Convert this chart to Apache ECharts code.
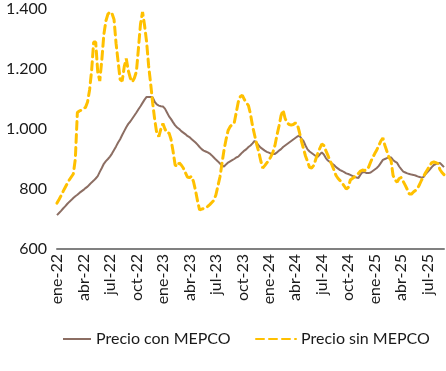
<!DOCTYPE html>
<html>
<head>
<meta charset="utf-8">
<script src="https://cdn.jsdelivr.net/npm/echarts@6/dist/echarts.min.js"></script>
<style>
html,body{margin:0;padding:0;background:#fff;}
#chart{width:446px;height:371px;}
</style>
</head>
<body>
<div id="chart"></div>
<script>
// Weekly observations, starting the week of 2022-01-03
const startDate = '2022-01-03';
const tickLabels = ['ene-22','abr-22','jul-22','oct-22','ene-23','abr-23','jul-23','oct-23','ene-24','abr-24','jul-24','oct-24','ene-25','abr-25','jul-25'];
const seriesNames = ['Precio con MEPCO', 'Precio sin MEPCO'];

const precioConMepco = [
713,720,727,735,742,750,757,763,770,776,
781,787,792,797,803,808,815,822,828,835,
843,857,870,884,893,900,908,918,930,942,
955,966,980,993,1006,1017,1025,1035,1045,1055,
1066,1076,1087,1098,1107,1107,1107,1105,1090,1082,
1078,1076,1075,1068,1055,1042,1033,1022,1012,1005,
1000,993,988,983,977,973,967,961,955,948,
940,933,928,925,922,918,912,905,898,892,
885,878,875,882,888,892,896,900,905,908,
915,922,928,933,940,945,952,960,955,945,
938,933,928,924,921,918,917,917,922,928,
933,940,945,950,955,960,965,970,975,978,
968,960,945,932,925,920,915,910,907,915,
922,915,903,895,890,885,880,873,868,863,
860,856,852,850,847,844,841,838,837,848,
856,856,853,853,855,860,865,870,877,887,
897,900,903,906,905,897,891,887,875,866,
858,855,852,850,848,847,845,842,840,838,
840,850,857,865,873,880,883,886,887,880,
873
];

const precioSinMepco = [
753,765,778,792,805,818,830,840,850,900,
1055,1060,1063,1068,1072,1090,1130,1195,1290,1290,
1190,1160,1230,1315,1360,1383,1390,1385,1365,1285,
1225,1165,1160,1207,1235,1195,1170,1157,1170,1192,
1270,1350,1390,1345,1290,1210,1150,1085,1030,985,
975,1000,1018,1000,987,987,965,925,880,875,
887,880,870,855,840,838,842,825,795,760,
730,733,735,737,742,748,755,762,780,810,
840,885,930,965,995,1008,1015,1020,1055,1090,
1108,1112,1098,1088,1078,1050,1010,980,950,925,
895,870,878,887,895,908,922,945,980,1010,
1045,1063,1035,1020,1015,1013,1015,1020,1015,990,
960,935,910,892,872,870,878,898,918,935,
950,945,928,912,895,880,863,845,835,828,
820,810,800,805,830,835,840,845,852,860,
863,862,863,873,890,905,918,930,945,960,
970,945,925,905,895,845,830,823,835,838,
825,812,798,783,783,790,795,802,815,830,
842,855,866,877,888,890,888,885,865,855,
848
];

// Build weekly category dates
const categories = [];
{
  const d0 = new Date(startDate + 'T00:00:00Z');
  for (let i = 0; i < precioConMepco.length; i++) {
    const d = new Date(d0.getTime() + i * 7 * 86400000);
    categories.push(d.toISOString().slice(0, 10));
  }
}

// Map each tick label to the week closest to the 1st of that month
const monthAbbr = ['ene','feb','mar','abr','may','jun','jul','ago','sep','oct','nov','dic'];
const labelAt = new Map();
tickLabels.forEach(function (lab) {
  const parts = lab.split('-');
  const m = monthAbbr.indexOf(parts[0]);
  const y = 2000 + parseInt(parts[1], 10);
  const target = Date.UTC(y, m, 1);
  let best = 0, bestDiff = Infinity;
  categories.forEach(function (c, i) {
    const diff = Math.abs(new Date(c + 'T00:00:00Z').getTime() - target);
    if (diff < bestDiff) { bestDiff = diff; best = i; }
  });
  labelAt.set(best, lab);
});

const FONT = 'Lato';
const chart = echarts.init(document.getElementById('chart'), null, { renderer: 'canvas' });
chart.setOption({
  animation: false,
  backgroundColor: '#ffffff',
  grid: { left: 57, right: 2, top: 9, bottom: 122, containLabel: false },
  legend: [
    {
      data: [seriesNames[0]],
      left: 57, top: 326,
      itemWidth: 28, itemHeight: 14, itemGap: 5,
      itemStyle: { opacity: 0 },
      textStyle: { fontFamily: FONT, fontSize: 16, color: '#1a1a1a' }
    },
    {
      data: [seriesNames[1]],
      left: 250, top: 326,
      itemWidth: 40, itemHeight: 14, itemGap: 5,
      itemStyle: { opacity: 0 },
      textStyle: { fontFamily: FONT, fontSize: 16, color: '#1a1a1a' }
    }
  ],
  xAxis: {
    type: 'category',
    data: categories,
    boundaryGap: false,
    axisLine: { show: true, lineStyle: { color: '#808080', width: 2 } },
    axisTick: { show: false },
    splitLine: { show: false },
    axisLabel: {
      rotate: 90,
      margin: 5,
      interval: function (idx) { return labelAt.has(idx); },
      formatter: function (v, idx) { return labelAt.get(idx) || ''; },
      fontFamily: FONT, fontSize: 16, color: '#1a1a1a'
    }
  },
  yAxis: {
    type: 'value',
    min: 600, max: 1400, interval: 200,
    axisLine: { show: false },
    axisTick: { show: false },
    splitLine: { show: false },
    axisLabel: {
      margin: 10,
      fontFamily: FONT, fontSize: 16, color: '#1a1a1a',
      formatter: function (v) { return String(v).replace(/\B(?=(\d{3})+(?!\d))/g, '.'); }
    }
  },
  series: [
    {
      name: seriesNames[0],
      type: 'line',
      data: precioConMepco,
      symbol: 'none',
      itemStyle: { color: '#8c6e63' },
      lineStyle: { color: '#8c6e63', width: 2 },
      z: 2
    },
    {
      name: seriesNames[1],
      type: 'line',
      data: precioSinMepco,
      symbol: 'none',
      itemStyle: { color: '#FFC000' },
      lineStyle: { color: '#FFC000', width: 3, type: [8, 5], cap: 'round' },
      z: 3
    }
  ]
});
</script>
</body>
</html>
